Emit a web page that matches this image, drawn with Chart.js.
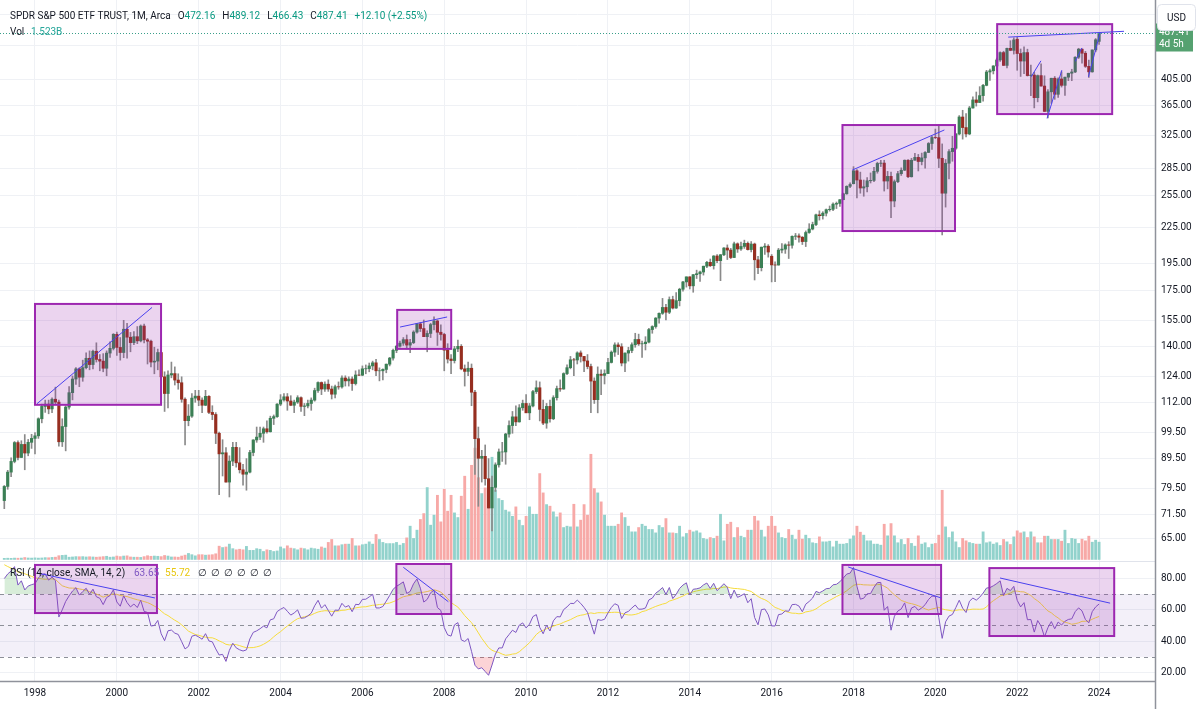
<!DOCTYPE html>
<html>
<head>
<meta charset="utf-8">
<script src="https://cdn.jsdelivr.net/npm/chart.js@4.4.1/dist/chart.umd.min.js"></script>
<style>
  html, body { margin: 0; padding: 0; background: #fff; }
  #wrap { width: 1200px; height: 709px; }
</style>
</head>
<body>
<div id="wrap"><canvas id="spyChart" width="1200" height="709"></canvas></div>
<script>
"use strict";

// ---- data: SPY monthly, Apr 1997 .. Jan 2024 ----
const FIRST_MONTH = { year: 1997, month: 4 };
const BASE_YEAR = 1998;

const opens = [
  75.7, 80.1, 84.8, 88.5, 95.4, 89.9, 94.7, 91.5, 95.5,
  97.0, 98.0, 104.9, 110.2, 111.2, 109.1, 113.4, 112.1, 95.7, 101.7, 109.9, 116.4,
  122.9, 128.0, 123.8, 128.6, 133.5, 130.2, 137.3, 132.9, 132.0, 128.3, 136.3, 138.9,
  146.9, 139.4, 136.6, 149.9, 145.2, 142.1, 145.5, 143.1, 151.8, 143.7, 142.9, 131.5,
  132.0, 136.6, 124.0, 116.0, 124.9, 125.6, 122.4, 121.1, 113.4, 104.1, 106.0, 113.9,
  114.8, 113.0, 110.7, 114.7, 107.6, 106.7, 99.0, 91.2, 91.6, 81.5, 88.6, 93.6,
  88.0, 85.6, 84.1, 84.8, 91.7, 96.4, 97.5, 99.0, 100.8, 99.6, 105.1, 105.8,
  111.2, 113.1, 114.5, 112.6, 110.7, 112.1, 114.1, 110.2, 110.4, 111.5, 113.0, 117.4,
  121.2, 118.1, 120.4, 118.1, 115.7, 119.2, 119.1, 123.4, 122.0, 122.9, 120.7, 124.9,
  124.8, 128.0, 128.1, 129.5, 131.1, 127.0, 127.0, 127.7, 130.4, 133.6, 137.8, 140.1,
  141.8, 143.8, 140.7, 142.1, 148.2, 153.1, 150.3, 145.5, 147.4, 152.7, 154.9, 148.1,
  146.8, 137.9, 133.1, 132.3, 138.6, 140.0, 128.0, 126.7, 128.3, 116.6, 96.9, 89.6,
  90.3, 82.6, 73.5, 79.8, 87.3, 91.9, 91.9, 98.7, 102.1, 105.7, 103.6, 109.6,
  111.5, 107.4, 110.4, 116.9, 118.7, 108.9, 103.1, 110.2, 104.9, 114.1, 118.3, 118.1,
  125.6, 128.6, 132.7, 132.6, 136.4, 134.5, 132.1, 129.2, 121.9, 113.2, 125.3, 124.7,
  125.6, 131.3, 136.8, 140.8, 139.8, 131.0, 136.3, 137.7, 140.9, 143.9, 141.4, 141.5,
  142.4, 149.7, 151.5, 156.7, 159.7, 163.5, 160.4, 168.7, 163.1, 168.0, 175.8, 181.0,
  184.7, 178.2, 186.3, 187.0, 188.3, 192.7, 195.7, 193.1, 200.7, 197.0, 201.7, 207.2,
  205.5, 199.5, 210.7, 206.4, 208.5, 211.1, 205.9, 210.5, 197.7, 191.6, 207.9, 208.7,
  200.5, 193.7, 193.6, 205.5, 206.3, 209.8, 209.5, 217.1, 217.4, 216.3, 212.6, 220.4,
  223.5, 227.5, 236.5, 235.7, 238.1, 241.4, 241.8, 246.8, 247.5, 251.2, 257.2, 265.0,
  267.8, 281.9, 271.7, 263.2, 264.5, 270.9, 271.3, 281.3, 290.3, 290.7, 270.6, 275.7,
  249.9, 269.9, 278.7, 282.6, 294.0, 275.3, 294.0, 297.4, 292.5, 296.8, 303.3, 314.3,
  321.9, 321.7, 296.3, 257.8, 290.5, 304.3, 308.4, 326.5, 349.3, 334.9, 326.5, 362.1,
  373.9, 370.1, 380.4, 396.3, 418.0, 420.0, 428.1, 438.5, 451.6, 429.1, 459.3, 455.6,
  476.3, 449.9, 436.6, 451.6, 412.0, 412.9, 377.3, 412.0, 395.2, 357.2, 386.2, 407.7,
  382.4, 406.5, 396.3, 409.4, 415.9, 418.0, 443.3, 457.8, 450.4, 427.5, 418.2, 456.4,
  472.16
];

const highs = [
  80.4, 85.4, 89.8, 95.8, 96.1, 96.1, 98.5, 96.6, 98.6,
  99.3, 105.3, 111.2, 113.0, 113.0, 114.0, 119.0, 113.0, 104.9, 110.5, 119.3, 124.4,
  128.6, 128.5, 132.5, 136.4, 137.5, 138.0, 142.0, 135.5, 136.0, 137.5, 142.5, 147.3,
  148.2, 145.0, 155.3, 153.5, 148.0, 148.5, 151.5, 152.5, 153.0, 144.5, 143.5, 139.5,
  138.5, 138.0, 126.5, 127.0, 131.5, 129.0, 125.5, 124.0, 114.0, 111.0, 116.0, 117.5,
  117.5, 114.0, 117.5, 115.0, 110.5, 107.5, 99.5, 96.5, 93.5, 90.5, 95.5, 95.5,
  93.5, 87.5, 89.5, 92.5, 96.5, 101.5, 101.5, 101.5, 104.0, 106.0, 106.5, 111.5,
  115.5, 116.0, 116.0, 115.0, 113.0, 115.0, 114.5, 111.5, 113.0, 114.0, 118.5, 121.5,
  121.5, 121.5, 122.5, 119.5, 120.0, 121.5, 124.5, 124.5, 124.0, 124.0, 127.0, 127.5,
  129.5, 130.0, 131.0, 132.0, 133.0, 128.5, 128.0, 130.5, 134.0, 138.5, 140.5, 143.0,
  145.0, 146.5, 144.0, 149.0, 153.5, 154.0, 155.5, 149.0, 153.5, 157.5, 155.5, 152.5,
  147.5, 141.5, 135.5, 140.0, 143.5, 141.0, 130.0, 131.5, 130.5, 117.5, 101.5, 92.5,
  94.5, 89.5, 83.5, 88.0, 93.0, 95.5, 99.0, 104.0, 108.0, 110.5, 111.0, 113.0,
  115.5, 111.5, 117.5, 122.0, 121.5, 113.0, 111.5, 113.0, 115.0, 119.5, 122.5, 126.0,
  130.0, 134.5, 133.5, 137.0, 137.5, 134.5, 135.5, 130.5, 123.5, 129.0, 127.5, 127.5,
  133.5, 137.5, 142.0, 142.0, 141.5, 136.5, 139.5, 142.0, 147.5, 147.0, 143.0, 145.5,
  150.5, 152.0, 157.0, 160.0, 169.5, 165.5, 170.5, 171.0, 173.5, 176.5, 181.5, 184.7,
  184.8, 186.5, 189.7, 189.0, 192.8, 196.5, 198.3, 201.0, 201.9, 202.0, 207.6, 209.8,
  206.9, 212.2, 211.5, 212.2, 213.8, 212.3, 212.6, 211.3, 200.5, 208.0, 211.0, 210.0,
  201.9, 196.0, 206.9, 210.9, 210.7, 212.5, 217.5, 219.6, 219.2, 216.9, 221.8, 228.3,
  229.7, 237.3, 240.3, 239.5, 242.1, 245.0, 248.0, 248.9, 251.3, 257.9, 265.5, 268.6,
  286.6, 283.3, 280.4, 271.7, 274.3, 279.5, 285.8, 291.7, 293.9, 294.0, 281.2, 280.4,
  271.8, 281.3, 285.2, 294.4, 294.9, 296.3, 302.2, 300.9, 302.5, 304.2, 315.5, 323.8,
  332.9, 339.1, 313.8, 294.9, 306.8, 323.4, 327.2, 351.3, 358.8, 354.0, 364.4, 378.5,
  385.9, 394.2, 398.0, 420.7, 422.8, 428.8, 441.8, 453.1, 454.0, 459.6, 473.5, 479.0,
  479.98, 458.1, 462.1, 457.8, 429.7, 417.4, 413.0, 431.7, 411.7, 389.5, 407.7, 410.5,
  408.2, 418.3, 409.7, 415.9, 422.6, 444.3, 459.4, 458.2, 453.7, 438.1, 456.4, 477.6,
  489.12
];

const lows = [
  73.3, 79.2, 83.3, 88.0, 89.0, 89.9, 85.6, 90.5, 93.2,
  91.2, 97.0, 103.2, 107.6, 107.0, 107.5, 111.4, 94.0, 93.9, 92.3, 109.0, 113.1,
  120.3, 119.2, 121.8, 128.0, 127.5, 128.0, 131.5, 127.0, 126.5, 124.5, 134.0, 138.0,
  135.0, 132.5, 133.8, 133.5, 137.0, 141.0, 141.5, 142.5, 142.0, 130.5, 129.0, 125.5,
  127.5, 122.0, 108.0, 109.5, 123.5, 120.0, 118.0, 112.0, 94.5, 102.0, 105.5, 112.0,
  110.5, 107.5, 110.5, 107.0, 104.5, 95.0, 77.5, 83.5, 81.5, 76.8, 87.0, 86.5,
  84.5, 80.5, 78.9, 84.5, 90.5, 95.5, 96.5, 95.5, 99.0, 99.5, 102.5, 105.5,
  110.5, 112.5, 108.5, 110.5, 107.5, 111.5, 108.0, 106.2, 109.5, 108.5, 112.5, 116.5,
  115.5, 117.0, 117.0, 113.5, 114.0, 118.0, 118.5, 119.5, 119.5, 117.5, 120.0, 124.5,
  124.5, 125.5, 126.5, 127.5, 124.5, 122.0, 122.5, 126.0, 129.5, 132.5, 136.5, 139.5,
  140.5, 138.5, 136.5, 141.5, 147.5, 148.5, 145.5, 137.0, 145.0, 149.5, 140.5, 143.5,
  127.0, 131.0, 125.5, 131.0, 137.0, 127.5, 119.5, 124.5, 110.5, 84.0, 74.0, 81.5,
  80.5, 73.5, 67.1, 78.5, 86.5, 88.5, 87.5, 97.5, 99.0, 102.0, 103.5, 108.5,
  107.5, 104.5, 110.0, 116.0, 104.0, 102.5, 101.0, 103.5, 104.5, 113.0, 117.0, 118.0,
  125.0, 128.0, 124.5, 130.5, 131.5, 126.5, 128.0, 107.5, 111.5, 107.4, 115.5, 120.5,
  125.5, 131.0, 134.5, 135.5, 129.5, 126.5, 132.0, 136.5, 139.5, 140.5, 134.0, 138.0,
  142.0, 147.5, 150.5, 153.5, 159.0, 155.5, 159.5, 162.5, 162.9, 164.5, 174.5, 177.3,
  176.0, 173.7, 183.5, 181.3, 186.0, 191.5, 192.4, 190.5, 195.4, 181.9, 201.0, 197.9,
  198.6, 199.3, 203.6, 205.3, 206.9, 205.5, 204.0, 182.4, 187.0, 189.1, 202.0, 199.8,
  181.0, 181.1, 193.5, 203.1, 202.8, 198.7, 207.0, 214.3, 212.0, 210.1, 208.4, 219.7,
  222.7, 226.5, 231.6, 232.5, 235.4, 240.0, 240.5, 242.5, 244.6, 251.2, 256.7, 263.5,
  267.4, 252.9, 257.8, 254.7, 259.1, 268.5, 269.8, 279.2, 286.7, 260.0, 262.3, 233.8,
  244.2, 268.8, 276.7, 282.0, 274.3, 274.9, 294.0, 281.7, 288.6, 284.8, 303.0, 307.1,
  320.4, 285.5, 218.3, 243.9, 272.9, 292.8, 307.0, 325.3, 319.8, 322.6, 325.5, 362.0,
  364.8, 369.9, 371.9, 395.5, 404.0, 414.7, 421.0, 436.1, 428.8, 425.0, 454.9, 448.9,
  420.8, 410.6, 415.1, 411.2, 380.5, 362.2, 371.0, 395.0, 357.0, 348.1, 368.8, 374.8,
  377.8, 393.6, 380.7, 403.8, 403.7, 416.8, 441.0, 433.0, 425.6, 409.2, 417.6, 453.0,
  466.43
];

const closes = [
  80.1, 84.8, 88.5, 95.4, 89.9, 94.7, 91.5, 95.5, 97.0,
  98.0, 104.9, 110.2, 111.2, 109.1, 113.4, 112.1, 95.7, 101.7, 109.9, 116.4, 122.9,
  128.0, 123.8, 128.6, 133.5, 130.2, 137.3, 132.9, 132.0, 128.3, 136.3, 138.9, 146.9,
  139.4, 136.6, 149.9, 145.2, 142.1, 145.5, 143.1, 151.8, 143.7, 142.9, 131.5, 132.0,
  136.6, 124.0, 116.0, 124.9, 125.6, 122.4, 121.1, 113.4, 104.1, 106.0, 113.9, 114.8,
  113.0, 110.7, 114.7, 107.6, 106.7, 99.0, 91.2, 91.6, 81.5, 88.6, 93.6, 88.0,
  85.6, 84.1, 84.8, 91.7, 96.4, 97.5, 99.0, 100.8, 99.6, 105.1, 105.8, 111.2,
  113.1, 114.5, 112.6, 110.7, 112.1, 114.1, 110.2, 110.4, 111.5, 113.0, 117.4, 121.2,
  118.1, 120.4, 118.1, 115.7, 119.2, 119.1, 123.4, 122.0, 122.9, 120.7, 124.9, 124.8,
  128.0, 128.1, 129.5, 131.1, 127.0, 127.0, 127.7, 130.4, 133.6, 137.8, 140.1, 141.8,
  143.8, 140.7, 142.1, 148.2, 153.1, 150.3, 145.5, 147.4, 152.7, 154.9, 148.1, 146.8,
  137.9, 133.1, 132.3, 138.6, 140.0, 128.0, 126.7, 128.3, 116.6, 96.9, 89.6, 90.3,
  82.6, 73.5, 79.8, 87.3, 91.9, 91.9, 98.7, 102.1, 105.7, 103.6, 109.6, 111.5,
  107.4, 110.4, 116.9, 118.7, 108.9, 103.1, 110.2, 104.9, 114.1, 118.3, 118.1, 125.6,
  128.6, 132.7, 132.6, 136.4, 134.5, 132.1, 129.2, 121.9, 113.2, 125.3, 124.7, 125.6,
  131.3, 136.8, 140.8, 139.8, 131.0, 136.3, 137.7, 140.9, 143.9, 141.4, 141.5, 142.4,
  149.7, 151.5, 156.7, 159.7, 163.5, 160.4, 168.7, 163.1, 168.0, 175.8, 181.0, 184.7,
  178.2, 186.3, 187.0, 188.3, 192.7, 195.7, 193.1, 200.7, 197.0, 201.7, 207.2, 205.5,
  199.5, 210.7, 206.4, 208.5, 211.1, 205.9, 210.5, 197.7, 191.6, 207.9, 208.7, 203.9,
  193.7, 193.6, 205.5, 206.3, 209.8, 209.5, 217.1, 217.4, 216.3, 212.6, 220.4, 223.5,
  227.5, 236.5, 235.7, 238.1, 241.4, 241.8, 246.8, 247.5, 251.2, 257.2, 265.0, 266.9,
  281.9, 271.7, 263.2, 264.5, 270.9, 271.3, 281.3, 290.3, 290.7, 270.6, 275.7, 249.9,
  269.9, 278.7, 282.5, 294.0, 275.3, 294.0, 297.4, 292.5, 296.8, 303.3, 314.3, 321.9,
  321.7, 296.3, 257.8, 290.5, 304.3, 308.4, 326.5, 349.3, 334.9, 326.5, 362.1, 373.9,
  370.1, 380.4, 396.3, 418.0, 420.0, 428.1, 438.5, 451.6, 429.1, 459.3, 455.6, 475.0,
  449.9, 436.6, 451.6, 412.0, 412.9, 377.3, 412.0, 395.2, 357.2, 386.2, 407.7, 382.4,
  406.5, 396.3, 409.4, 415.9, 418.0, 443.3, 457.8, 450.4, 427.5, 418.2, 456.4, 475.3,
  487.41
];

// monthly volume, billions of shares
const volumes = [
  0.10, 0.11, 0.10, 0.12, 0.11, 0.12, 0.17, 0.13, 0.12,
  0.14, 0.12, 0.13, 0.16, 0.15, 0.18, 0.20, 0.33, 0.36, 0.38, 0.20, 0.22,
  0.25, 0.24, 0.25, 0.22, 0.24, 0.22, 0.20, 0.22, 0.25, 0.28, 0.20, 0.22,
  0.30, 0.25, 0.30, 0.32, 0.22, 0.20, 0.20, 0.18, 0.25, 0.33, 0.28, 0.30,
  0.28, 0.25, 0.35, 0.30, 0.22, 0.22, 0.20, 0.30, 0.38, 0.53, 0.42, 0.32,
  0.42, 0.42, 0.38, 0.40, 0.42, 0.50, 1.17, 1.05, 1.10, 1.35, 0.95, 0.85,
  0.90, 0.85, 1.15, 0.80, 0.80, 0.95, 0.90, 0.70, 0.85, 0.80, 0.70, 0.75,
  1.10, 0.95, 1.20, 1.00, 0.95, 0.85, 1.00, 0.95, 0.85, 1.00, 0.95, 0.90,
  1.10, 1.00, 1.50, 1.76, 1.20, 1.20, 1.30, 1.35, 1.35, 1.85, 1.20, 1.20,
  1.30, 1.35, 1.55, 1.35, 2.20, 1.76, 1.50, 1.40, 1.40, 1.40, 1.50, 1.26,
  1.41, 1.90, 2.93, 1.85, 2.58, 3.52, 4.04, 6.33, 3.02, 3.90, 5.65, 3.31,
  6.18, 4.25, 5.65, 4.10, 3.69, 5.57, 7.33, 4.42, 8.29, 9.80, 7.20, 5.80,
  6.30, 6.90, 9.00, 6.10, 5.36, 5.20, 4.34, 4.19, 3.80, 4.63, 3.46, 2.99,
  3.80, 4.63, 3.98, 3.98, 7.56, 5.86, 4.83, 4.69, 4.19, 3.75, 4.10, 2.81,
  2.93, 2.87, 4.86, 2.87, 3.46, 4.83, 3.90, 9.26, 6.24, 5.86, 5.07, 3.90,
  2.93, 2.93, 2.93, 3.10, 4.10, 3.69, 2.93, 2.43, 2.43, 2.81, 3.10, 2.93,
  2.64, 2.64, 2.34, 2.99, 2.81, 3.60, 2.34, 2.34, 2.29, 2.93, 1.99, 2.29,
  2.58, 2.43, 2.52, 2.34, 1.85, 1.76, 1.93, 1.85, 2.05, 3.98, 1.64, 3.10,
  3.28, 1.93, 2.81, 2.05, 1.93, 2.58, 2.58, 3.80, 3.40, 2.58, 1.99, 2.93,
  3.80, 2.93, 2.34, 1.93, 1.85, 2.64, 2.14, 1.76, 2.58, 1.79, 2.14, 1.85,
  1.47, 1.41, 1.99, 1.55, 1.55, 1.61, 1.11, 1.61, 1.35, 1.35, 1.41, 1.79,
  2.08, 2.93, 2.40, 2.14, 1.64, 1.64, 1.35, 1.35, 1.26, 3.10, 2.08, 3.16,
  2.08, 1.47, 1.76, 1.32, 1.85, 1.41, 1.17, 2.08, 1.35, 1.47, 1.05, 1.35,
  1.41, 2.14, 6.09, 2.87, 1.93, 2.43, 1.55, 1.05, 1.85, 1.64, 1.49, 1.41,
  1.35, 1.35, 2.43, 1.47, 1.55, 1.35, 1.47, 1.23, 1.76, 1.55, 1.32, 1.99,
  2.52, 2.34, 2.43, 1.93, 2.43, 1.99, 1.47, 1.47, 2.05, 2.05, 1.76, 1.76,
  1.76, 1.61, 2.58, 1.41, 1.85, 1.79, 1.41, 1.79, 1.64, 2.05, 1.52, 1.70,
  1.523
];

// closes before the visible window, only used to warm up the RSI (Jan 1995 .. Mar 1997)
const warmupCloses = [
  47.0, 48.7, 50.1, 51.5, 53.3, 54.5, 56.2, 56.2, 58.4, 58.2, 60.5, 61.6,
  63.6, 64.0, 64.6, 65.4, 66.9, 67.1, 64.0, 65.2, 68.7, 70.5, 75.7, 74.1,
  78.6, 79.1, 75.7
];

// axis ticks
const priceTicks = [65, 71.5, 79.5, 89.5, 99.5, 112, 124, 140, 155, 175, 195, 225, 255, 285, 325, 365, 405, 465, 525];
const hiddenPriceTicks = [465, 525];
const rsiTicks = [20, 40, 60, 80];
const rsiLevels = [70, 50, 30];
const yearTicks = [1998, 2000, 2002, 2004, 2006, 2008, 2010, 2012, 2014, 2016, 2018, 2020, 2022, 2024];

// drawings (dates as decimal years)
const priceBoxes = [
  { from: 1998.0,  to: 2001.08, low: 110.9, high: 165.8 },
  { from: 2006.85, to: 2008.17, low: 138.6, high: 161.9 },
  { from: 2017.73, to: 2020.48, low: 221.7, high: 338.3 },
  { from: 2021.51, to: 2024.32, low: 353.4, high: 505.8 }
];
const rsiBoxes = [
  { from: 1998.0,  to: 2000.98, low: 57.9, high: 88.5 },
  { from: 2006.83, to: 2008.17, low: 57.3, high: 89.1 },
  { from: 2017.73, to: 2020.14, low: 57.3, high: 88.5 },
  { from: 2021.32, to: 2024.37, low: 43.3, high: 86.5 }
];
const priceLines = [
  [1998.05, 111.4, 2000.86, 163.5],
  [2006.92, 151.2, 2008.07, 157.4],
  [2017.97, 282.7, 2020.22, 331.7],
  [2021.78, 480.3, 2024.61, 491.6],
  [2022.34, 410.0, 2022.58, 437.0],
  [2022.73, 347.4, 2023.09, 421.0],
  [2023.42, 436.0, 2023.58, 460.0],
  [2023.74, 410.0, 2024.03, 490.0]
];
const rsiLines = [
  [1998.05, 83.4, 2000.93, 67.5],
  [2007.0, 87.0, 2008.1, 65.1],
  [2017.87, 87.2, 2020.14, 67.5],
  [2021.58, 80.2, 2024.27, 64.2]
];

// ---- colours ----
const UP = "#3b7f55";
const DOWN = "#962e20";
const WICK = "#8a8a8a";
const VOL_UP = "#92d2cc";
const VOL_DOWN = "#f7a9a7";
const GRID = "#eff1f5";
const TEXT = "#131722";
const FONT = "Roboto, 'Liberation Sans', sans-serif";

const n = closes.length;
[opens, highs, lows, volumes].forEach(a => {
  if (a.length !== n) throw new Error("length mismatch " + a.length + " vs " + n);
});

// month index relative to Jan of BASE_YEAR
const firstIdx = (FIRST_MONTH.year - BASE_YEAR) * 12 + FIRST_MONTH.month - 1;
const xs = closes.map((_, i) => firstIdx + i);
const isUp = closes.map((c, i) => c >= opens[i]);
const dateX = d => (d - BASE_YEAR) * 12;

// RSI (Wilder) and its SMA
function rsi(src, len) {
  const out = new Array(src.length).fill(null);
  let up = 0, dn = 0;
  for (let i = 1; i < src.length; i++) {
    const ch = src[i] - src[i - 1];
    const u = Math.max(ch, 0), d = Math.max(-ch, 0);
    if (i <= len) { up += u / len; dn += d / len; }
    else { up = (up * (len - 1) + u) / len; dn = (dn * (len - 1) + d) / len; }
    if (i >= len) out[i] = dn === 0 ? 100 : 100 - 100 / (1 + up / dn);
  }
  return out;
}
function sma(src, len) {
  return src.map((_, i) => {
    if (i < len - 1) return null;
    const w = src.slice(i - len + 1, i + 1);
    if (w.some(v => v === null)) return null;
    return w.reduce((s, v) => s + v, 0) / len;
  });
}
const allCloses = warmupCloses.concat(closes);
const rsiAll = rsi(allCloses, 14);
const rsiMaAll = sma(rsiAll, 14);
const rsiVals = rsiAll.slice(warmupCloses.length);
const rsiMaVals = rsiMaAll.slice(warmupCloses.length);

// ---- overlays ----
const overlayPlugin = {
  id: "overlay",
  beforeDatasetsDraw(chart) {
    const { ctx, chartArea: a } = chart;
    const yr = chart.scales.yRsi;
    const y70 = yr.getPixelForValue(70), y30 = yr.getPixelForValue(30);
    ctx.save();
    ctx.fillStyle = "rgba(126, 87, 194, 0.09)";
    ctx.fillRect(a.left, y70, a.right - a.left, y30 - y70);
    ctx.setLineDash([4, 4]);
    ctx.strokeStyle = "#8d9099";
    ctx.lineWidth = 1;
    rsiLevels.forEach(lv => {
      const y = Math.round(yr.getPixelForValue(lv)) + 0.5;
      ctx.beginPath(); ctx.moveTo(a.left, y); ctx.lineTo(a.right, y); ctx.stroke();
    });
    ctx.restore();
  },
  afterDatasetsDraw(chart) {
    const { ctx, chartArea: a, scales } = chart;
    const x = scales.x, yp = scales.y, yr = scales.yRsi;
    ctx.save();
    ctx.beginPath();
    ctx.rect(a.left, a.top, a.right - a.left, a.bottom - a.top);
    ctx.clip();
    const drawBoxes = (boxes, ys) => boxes.forEach(b => {
      const x0 = x.getPixelForValue(dateX(b.from)), x1 = x.getPixelForValue(dateX(b.to));
      const y0 = ys.getPixelForValue(b.high), y1 = ys.getPixelForValue(b.low);
      ctx.fillStyle = "rgba(156, 39, 176, 0.2)";
      ctx.fillRect(x0, y0, x1 - x0, y1 - y0);
      ctx.strokeStyle = "#9c27b0";
      ctx.lineWidth = 2;
      ctx.strokeRect(x0, y0, x1 - x0, y1 - y0);
    });
    drawBoxes(priceBoxes, yp);
    drawBoxes(rsiBoxes, yr);
    const drawLines = (lines, ys) => lines.forEach(l => {
      ctx.strokeStyle = "#4a40ee";
      ctx.lineWidth = 1;
      ctx.beginPath();
      ctx.moveTo(x.getPixelForValue(dateX(l[0])), ys.getPixelForValue(l[1]));
      ctx.lineTo(x.getPixelForValue(dateX(l[2])), ys.getPixelForValue(l[3]));
      ctx.stroke();
    });
    drawLines(priceLines, yp);
    drawLines(rsiLines, yr);
    ctx.restore();
  },
  afterDraw(chart) {
    const { ctx, chartArea: a, scales } = chart;
    const yp = scales.y, yr = scales.yRsi;
    const last = closes[n - 1];
    const yLast = Math.round(yp.getPixelForValue(last)) + 0.5;
    ctx.save();

    // pane separator and axis borders
    ctx.strokeStyle = "#e0e3eb";
    ctx.lineWidth = 1;
    ctx.beginPath(); ctx.moveTo(a.left, Math.round(yr.top) + 0.5); ctx.lineTo(a.right, Math.round(yr.top) + 0.5); ctx.stroke();
    ctx.strokeStyle = "#8f929b";
    ctx.lineWidth = 1.5;
    ctx.beginPath(); ctx.moveTo(a.right + 0.5, 0); ctx.lineTo(a.right + 0.5, chart.height); ctx.stroke();
    ctx.beginPath(); ctx.moveTo(0, a.bottom + 0.5); ctx.lineTo(a.right, a.bottom + 0.5); ctx.stroke();

    // last price dotted line
    ctx.strokeStyle = "#3a9f8a";
    ctx.lineWidth = 1;
    ctx.setLineDash([1, 2]);
    ctx.beginPath(); ctx.moveTo(a.left, yLast); ctx.lineTo(a.right, yLast); ctx.stroke();
    ctx.setLineDash([]);

    // last price label
    ctx.fillStyle = "#55a170";
    ctx.fillRect(a.right + 1, yLast - 10, 37, 28);
    ctx.fillStyle = "#fff";
    ctx.font = "10px " + FONT;
    ctx.textBaseline = "middle";
    ctx.textAlign = "left";
    ctx.fillText(last.toFixed(2), a.right + 4, yLast - 1);
    ctx.fillText("4d 5h", a.right + 4, yLast + 11);

    // USD button
    ctx.fillStyle = "#fff";
    ctx.strokeStyle = "#e0e3eb";
    ctx.lineWidth = 1;
    ctx.beginPath();
    ctx.roundRect(a.right + 2.5, 4.5, 38, 26, 4);
    ctx.fill(); ctx.stroke();
    ctx.fillStyle = TEXT;
    ctx.textAlign = "center";
    ctx.fillText("USD", a.right + 21.5, 18);

    // header legend
    ctx.textAlign = "left";
    ctx.font = "10px " + FONT;
    ctx.fillStyle = TEXT;
    const title = "SPDR S&P 500 ETF TRUST, 1M, Arca";
    ctx.fillText(title, 10, 16);
    let px = Math.max(174, 10 + ctx.measureText(title).width + 7);
    const ohlc = [["O", "472.16"], ["H", "489.12"], ["L", "466.43"], ["C", "487.41"]];
    ohlc.forEach(([k, v]) => {
      ctx.fillStyle = TEXT;
      ctx.fillText(k, px, 16);
      px += ctx.measureText(k).width;
      ctx.fillStyle = "#089981";
      ctx.fillText(v, px, 16);
      px += ctx.measureText(v).width + 7;
    });
    ctx.fillText("+12.10 (+2.55%)", px, 16);
    ctx.fillStyle = TEXT;
    ctx.fillText("Vol", 10, 32);
    ctx.fillStyle = "#26a69a";
    ctx.fillText("1.523B", 31, 32);

    // RSI legend
    const ly = Math.round(yr.top) + 12;
    const rsiTitle = "RSI (14, close, SMA, 14, 2)";
    ctx.fillStyle = TEXT;
    ctx.fillText(rsiTitle, 10, ly);
    let lx = Math.max(134, 10 + ctx.measureText(rsiTitle).width + 6);
    ctx.fillStyle = "#7e57c2";
    ctx.fillText("63.65", lx, ly);
    lx += ctx.measureText("63.65").width + 6;
    ctx.fillStyle = "#e8c710";
    ctx.fillText("55.72", lx, ly);
    lx += ctx.measureText("55.72").width + 8;
    ctx.fillStyle = TEXT;
    for (let k = 0; k < 6; k++) ctx.fillText("\u2205", lx + k * 13, ly);
    ctx.restore();
  }
};

// ---- chart ----
const zeroPad = s => { s.paddingTop = 0; s.paddingBottom = 0; s.paddingLeft = 0; s.paddingRight = 0; };

new Chart(document.getElementById("spyChart"), {
  type: "bar",
  data: {
    datasets: [
      {
        label: "Body",
        data: xs.map((xv, i) => ({ x: xv, y: [opens[i], closes[i]] })),
        backgroundColor: isUp.map(u => (u ? UP : DOWN)),
        barThickness: 2.5,
        grouped: false,
        yAxisID: "y",
        order: 1
      },
      {
        label: "Wick",
        data: xs.map((xv, i) => ({ x: xv, y: [lows[i], highs[i]] })),
        backgroundColor: WICK,
        barThickness: 1,
        grouped: false,
        yAxisID: "y",
        order: 2
      },
      {
        label: "Volume",
        data: xs.map((xv, i) => ({ x: xv, y: volumes[i] })),
        backgroundColor: isUp.map(u => (u ? VOL_UP : VOL_DOWN)),
        barThickness: 2.2,
        grouped: false,
        yAxisID: "yVol",
        order: 3
      },
      {
        type: "line",
        label: "RSI",
        data: xs.map((xv, i) => ({ x: xv, y: rsiVals[i] })),
        borderColor: "#7e57c2",
        borderWidth: 1,
        pointRadius: 0,
        tension: 0,
        yAxisID: "yRsi",
        fill: { target: { value: 70 }, above: "rgba(76, 175, 80, 0.22)", below: "rgba(0,0,0,0)" },
        order: 0
      },
      {
        type: "line",
        label: "RSI oversold",
        data: xs.map((xv, i) => ({ x: xv, y: rsiVals[i] })),
        borderWidth: 0,
        pointRadius: 0,
        yAxisID: "yRsi",
        fill: { target: { value: 30 }, above: "rgba(0,0,0,0)", below: "rgba(242, 54, 69, 0.22)" },
        order: 0
      },
      {
        type: "line",
        label: "RSI MA",
        data: xs.map((xv, i) => ({ x: xv, y: rsiMaVals[i] })),
        borderColor: "#f6dc3c",
        borderWidth: 1,
        pointRadius: 0,
        tension: 0,
        yAxisID: "yRsi",
        fill: false,
        order: 0
      }
    ]
  },
  options: {
    responsive: false,
    animation: false,
    layout: { padding: 0 },
    plugins: { legend: { display: false }, tooltip: { enabled: false } },
    scales: {
      x: {
        type: "linear",
        position: "bottom",
        offset: false,
        min: -10.26,
        max: 328.4,
        grid: { color: GRID, drawTicks: false, offset: false },
        border: { display: false },
        ticks: {
          color: TEXT,
          font: { family: FONT, size: 10 },
          padding: 6,
          maxRotation: 0,
          autoSkip: false,
          callback: v => String(BASE_YEAR + v / 12)
        },
        afterBuildTicks: s => { s.ticks = yearTicks.map(y => ({ value: (y - BASE_YEAR) * 12 })); },
        afterFit: s => { s.height = 28; zeroPad(s); }
      },
      y: {
        type: "logarithmic",
        position: "right",
        stack: "panes",
        stackWeight: 561,
        min: 59.5,
        max: 556.9,
        grid: { color: GRID, drawTicks: false },
        border: { display: false },
        ticks: {
          color: TEXT,
          font: { family: FONT, size: 10 },
          padding: 6,
          autoSkip: false,
          callback: v => (hiddenPriceTicks.includes(v) ? "" : v.toFixed(2))
        },
        afterBuildTicks: s => { s.ticks = priceTicks.map(v => ({ value: v })); },
        afterFit: s => { s.width = 45; zeroPad(s); }
      },
      yRsi: {
        type: "linear",
        position: "right",
        stack: "panes",
        stackWeight: 120,
        min: 14.7,
        max: 91,
        grid: { color: GRID, drawTicks: false },
        border: { display: false },
        ticks: {
          color: TEXT,
          font: { family: FONT, size: 10 },
          padding: 6,
          autoSkip: false,
          callback: v => v.toFixed(2)
        },
        afterBuildTicks: s => { s.ticks = rsiTicks.map(v => ({ value: v })); },
        afterFit: s => { s.width = 45; zeroPad(s); }
      },
      yVol: {
        type: "linear",
        position: "left",
        display: false,
        min: -10.7,
        max: 49.25
      }
    }
  },
  plugins: [overlayPlugin]
});
</script>
</body>
</html>
